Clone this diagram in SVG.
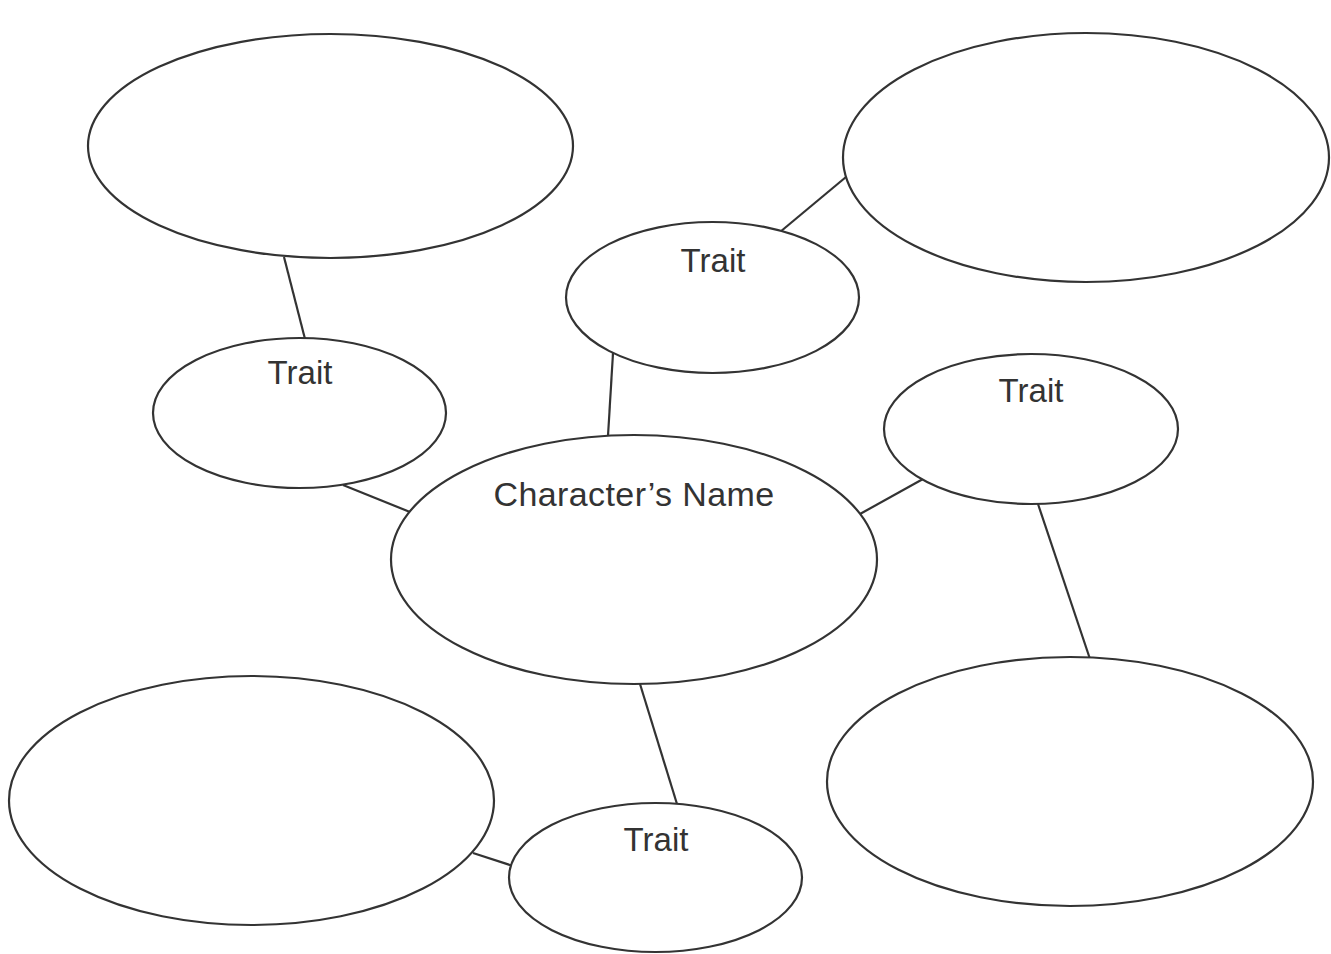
<svg xmlns="http://www.w3.org/2000/svg" width="1331" height="954" viewBox="0 0 1331 954">
<style>
.n{fill:#fff;stroke:#333;stroke-width:2.2}
.c line{stroke:#333;stroke-width:2.2}
.t{font-family:"Liberation Sans",Arial,sans-serif;font-size:33px;fill:#333;text-anchor:middle}
.big{font-size:34px;letter-spacing:0.4px}
</style>
<rect width="1331" height="954" fill="#fff"/>
<g class="c" id="connectors">
<line x1="284" y1="257" x2="305" y2="339"/>
<line x1="780" y1="232" x2="846" y2="177"/>
<line x1="613" y1="353" x2="608" y2="436"/>
<line x1="343" y1="485" x2="410" y2="512"/>
<line x1="860" y1="514" x2="923" y2="479"/>
<line x1="1038" y1="504" x2="1090" y2="659"/>
<line x1="640" y1="684" x2="677" y2="804"/>
<line x1="473" y1="853" x2="513" y2="866"/>
</g>
<g id="box-top-left"><ellipse class="n" cx="330.5" cy="146" rx="242.5" ry="112"/></g>
<g id="box-top-right"><ellipse class="n" cx="1086" cy="157.5" rx="243" ry="124.5"/></g>
<g id="box-bottom-left"><ellipse class="n" cx="251.5" cy="800.5" rx="242.5" ry="124.5"/></g>
<g id="box-bottom-right"><ellipse class="n" cx="1070" cy="781.5" rx="243" ry="124.5"/></g>
<g id="trait-top"><ellipse class="n" cx="712.5" cy="297.5" rx="146.5" ry="75.5"/><text class="t" x="713" y="272">Trait</text></g>
<g id="trait-left"><ellipse class="n" cx="299.5" cy="413" rx="146.5" ry="75"/><text class="t" x="300" y="384">Trait</text></g>
<g id="trait-right"><ellipse class="n" cx="1031" cy="429" rx="147" ry="75"/><text class="t" x="1031" y="402">Trait</text></g>
<g id="trait-bottom"><ellipse class="n" cx="655.5" cy="877.5" rx="146.5" ry="74.5"/><text class="t" x="656" y="851">Trait</text></g>
<g id="center"><ellipse class="n" cx="634" cy="559.5" rx="243" ry="124.5"/><text class="t big" x="634" y="506">Character’s Name</text></g>
</svg>
